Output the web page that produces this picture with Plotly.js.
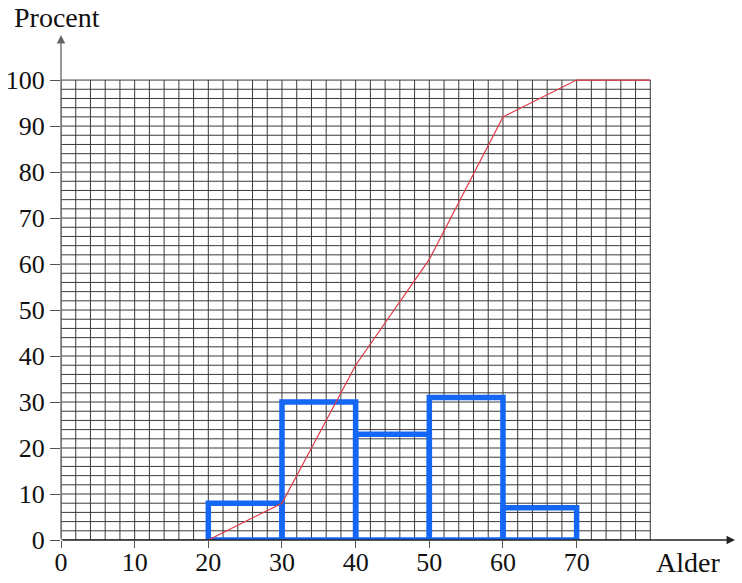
<!DOCTYPE html>
<html>
<head>
<meta charset="utf-8">
<script src="https://cdn.plot.ly/plotly-3.0.1.min.js"></script>
<style>html,body{margin:0;padding:0;background:#fff;}#chart{width:742px;height:583px;}</style>
</head>
<body>
<div id="chart"></div>
<script>
// Histogram classes (age intervals) and their percentages
const classStart = [20, 30, 40, 50, 60];
const classWidth = [10, 10, 10, 10, 10];
const percent = [8, 30, 23, 31, 7];

// Cumulative percentage curve
const cumAge = [20, 30, 40, 50, 60, 70, 80];
const cumPercent = [0, 8, 38, 61, 92, 100, 100];

// Tick labels
const xTicks = [0, 10, 20, 30, 40, 50, 60, 70];
const yTicks = [0, 10, 20, 30, 40, 50, 60, 70, 80, 90, 100];

const gridXMax = 80, gridYMax = 100, gridStep = 2;
const serif = 'Liberation Serif, Times New Roman, serif';

const shapes = [];
for (let gx = 0; gx <= gridXMax; gx += gridStep) {
  shapes.push({type:'line', xref:'x', yref:'y', x0:gx, x1:gx, y0:0, y1:gridYMax,
    line:{color:'#3a3a3a', width:1}, layer:'below'});
}
for (let gy = 0; gy <= gridYMax; gy += gridStep) {
  shapes.push({type:'line', xref:'x', yref:'y', x0:0, x1:gridXMax, y0:gy, y1:gy,
    line:{color:'#3a3a3a', width:1}, layer:'below'});
}

const bars = {
  type:'bar',
  x: classStart.map((s,i)=>s+classWidth[i]/2),
  y: percent,
  width: classWidth,
  marker:{color:'rgba(0,0,0,0)', line:{color:'#1466f5', width:5.5}},
  hoverinfo:'skip',
  cliponaxis:false
};
const cum = {
  type:'scatter', mode:'lines',
  x: cumAge, y: cumPercent,
  line:{color:'#e03a45', width:1.2},
  hoverinfo:'skip',
  cliponaxis:false
};

const xMax = 91.5, yMax = 109.8;
const layout = {
  width:742, height:583,
  margin:{l:61, r:7, t:35, b:43},
  paper_bgcolor:'#fff', plot_bgcolor:'rgba(0,0,0,0)',
  showlegend:false,
  barmode:'overlay',
  xaxis:{range:[0,xMax], tickvals:xTicks, ticktext:xTicks.map(String),
    ticks:'outside', ticklen:7, tickcolor:'#555', tickwidth:1, ticklabelstandoff:-8,
    showgrid:false, zeroline:false, showline:false,
    tickfont:{family:serif, size:26, color:'#111'}, fixedrange:true},
  yaxis:{range:[0,yMax], tickvals:yTicks, ticktext:yTicks.map(String),
    ticks:'outside', ticklen:10, tickcolor:'#555', tickwidth:1,
    showgrid:false, zeroline:false, showline:false,
    tickfont:{family:serif, size:26, color:'#111'}, fixedrange:true},
  shapes: shapes,
  annotations:[
    {x:xMax, y:0, ax:0, ay:0, axref:'x', ayref:'y', xref:'x', yref:'y', text:'',
      showarrow:true, arrowhead:2, arrowsize:1.3, arrowwidth:1.3, arrowcolor:'#222', standoff:0},
    {x:0, y:yMax, ax:0, ay:0, axref:'x', ayref:'y', xref:'x', yref:'y', text:'',
      showarrow:true, arrowhead:2, arrowsize:1.3, arrowwidth:1.3, arrowcolor:'#666', standoff:0},
    {x:-0.006, y:1.034, xref:'paper', yref:'paper', text:'Procent', showarrow:false,
      font:{family:serif, size:28, color:'#111'}, xanchor:'center', yanchor:'middle'},
    {x:0.930, y:-0.0455, xref:'paper', yref:'paper', text:'Alder', showarrow:false,
      font:{family:serif, size:28, color:'#111'}, xanchor:'center', yanchor:'middle'}
  ]
};

Plotly.newPlot('chart', [bars, cum], layout, {staticPlot:true, displayModeBar:false});
</script>
</body>
</html>
